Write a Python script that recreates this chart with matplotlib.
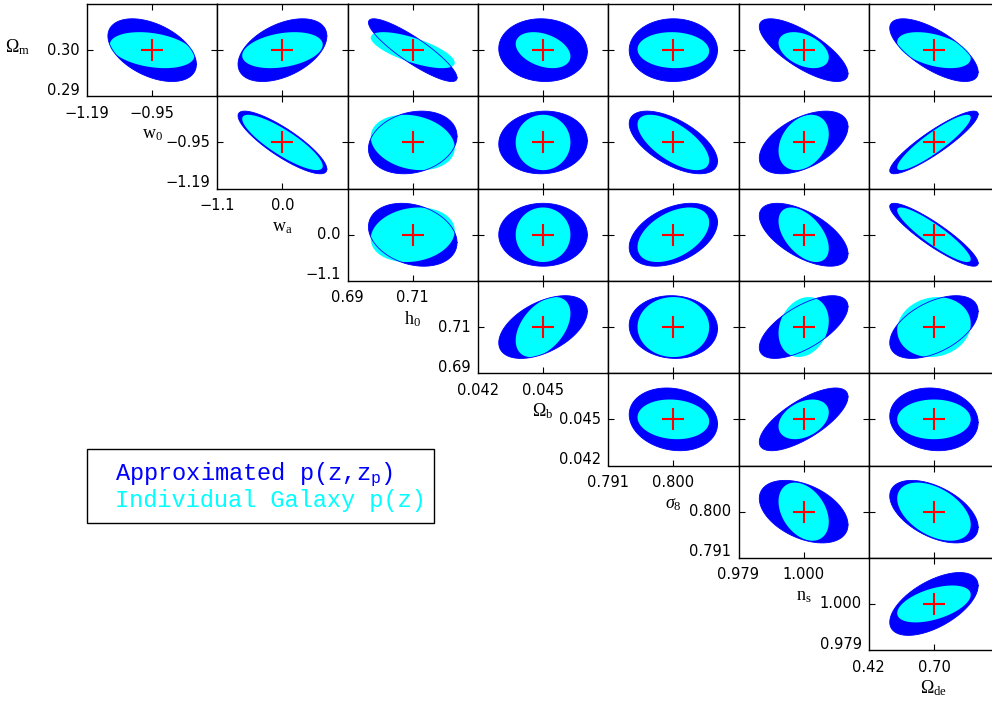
import numpy as np
import matplotlib
matplotlib.use('Agg')
import matplotlib.pyplot as plt
from matplotlib.patches import Rectangle

plt.rcParams['mathtext.fontset'] = 'custom'
plt.rcParams['mathtext.rm'] = 'Liberation Serif'
plt.rcParams['mathtext.it'] = 'Liberation Serif:italic'
plt.rcParams['mathtext.tt'] = 'Liberation Mono'

# parameters: Om, w0, wa, h0, Ob, s8, ns, Ode
names = [r'$\Omega_\mathrm{m}$', r'$\mathrm{w_0}$', r'$\mathrm{w_a}$', r'$\mathrm{h_0}$',
         r'$\Omega_\mathrm{b}$', r'$\sigma_8$', r'$\mathrm{n_s}$', r'$\Omega_\mathrm{de}$']
fid = [0.30, -0.95, 0.0, 0.71, 0.045, 0.800, 1.000, 0.70]
lo = [0.29, -1.19, -1.1, 0.69, 0.042, 0.791, 0.979, 0.42]
fid_lbl = ['0.30', '\u22120.95', '0.0', '0.71', '0.045', '0.800', '1.000', '0.70']
lo_lbl = ['0.29', '\u22121.19', '\u22121.1', '0.69', '0.042', '0.791', '0.979', '0.42']

# 1-sigma-ish sizes of the contours (data units)
sig_blue = [0.0068, 0.163, 0.75, 0.0136, 0.00204, 0.0061, 0.0143, 0.19]
cyan_sx = [None, 0.156, 0.68, 0.0129, 0.00126, 0.00495, 0.0081, 0.158]   # when on x axis
cyan_sy = [0.0039, 0.144, 0.65, 0.013, 0.00129, 0.00567, 0.0084, None]   # when on y axis

# correlations, row i = y param i, entries for x params i+1 .. 7
rho_blue = [
    [-0.45, 0.45, -0.88, -0.05, 0.0, -0.75, -0.7],
    [-0.85, 0.2, 0.05, -0.6, 0.5, 0.9],
    [-0.25, 0.0, 0.4, -0.6, -0.9],
    [0.5, -0.05, 0.65, 0.5],
    [-0.15, 0.72, -0.1],
    [-0.42, -0.5],
    [0.58],
]
rho_cyan = [
    [-0.3, 0.3, -0.7, -0.35, -0.05, -0.4, -0.45],
    [-0.85, -0.2, 0.0, -0.65, 0.3, 0.9],
    [0.15, 0.0, 0.45, -0.5, -0.9],
    [0.45, 0.0, 0.2, 0.1],
    [-0.1, 0.35, 0.0],
    [-0.35, -0.45],
    [0.5],
]

W, H = 992, 702
fig = plt.figure(figsize=(9.92, 7.02), dpi=100)

x0, y0 = 87, 4
pw, ph = 130.3, 92.3


def ftext(x, y, s, **kw):
    fig.text(x / W, 1 - y / H, s, **kw)


def ellipse(cx, cy, sx, sy, r):
    t = np.linspace(0, 2 * np.pi, 300)
    x = cx + sx * np.cos(t)
    y = cy + sy * (r * np.cos(t) + np.sqrt(1 - r * r) * np.sin(t))
    return x, y


for i in range(7):
    for j in range(i, 7):
        px, py = j + 1, i
        left, top = x0 + j * pw, y0 + i * ph
        ax = fig.add_axes([left / W, 1 - (top + ph) / H, pw / W, ph / H])
        cx, cy = fid[px], fid[py]
        ax.set_xlim(lo[px], 2 * cx - lo[px])
        ax.set_ylim(lo[py], 2 * cy - lo[py])
        ax.set_xticks([cx])
        ax.set_yticks([cy])
        ax.tick_params(direction='in', top=True, right=True, length=4, width=0.8,
                       labelbottom=False, labelleft=False)
        for s in ax.spines.values():
            s.set_linewidth(1.0)

        bx, by = ellipse(cx, cy, sig_blue[px], sig_blue[py], rho_blue[i][j - i])
        kx, ky = ellipse(cx, cy, cyan_sx[px], cyan_sy[py], rho_cyan[i][j - i])
        ax.fill(bx, by, color='#0000ff', lw=0)
        ax.fill(kx, ky, color='#00ffff', lw=0)
        ax.plot(bx, by, color='#0000ff', lw=0.6)
        ax.plot(cx, cy, '+', color='red', ms=16, mew=1.5)

        if j == i:
            # y tick labels
            ftext(left - 7, top + ph / 2, fid_lbl[py], ha='right', va='center', fontsize=10.5)
            ftext(left - 7, top + ph - 6, lo_lbl[py], ha='right', va='center', fontsize=10.5)
            # x tick labels
            ftext(left, top + ph + 17, lo_lbl[px], ha='center', va='center', fontsize=10.5)
            ftext(left + pw / 2, top + ph + 17, fid_lbl[px], ha='center', va='center', fontsize=10.5)
            ftext(left + pw / 2, top + ph + 38, names[px], ha='center', va='center', fontsize=13)

ftext(18, 47, names[0], ha='center', va='center', fontsize=13)

# legend box
fig.add_artist(Rectangle((87 / W, 1 - 523 / H), (434 - 87) / W, (523 - 449) / H,
                         transform=fig.transFigure, fill=False, ec='black', lw=1.0))
ftext(115, 480, r'Approximated p(z,z$_\mathtt{p}$)', color='#0000ff',
      family='Liberation Mono', fontsize=17, va='baseline')
ftext(115, 507, 'Individual Galaxy p(z)', color='#00ffff',
      family='Liberation Mono', fontsize=17, va='baseline')

fig.savefig('out.png', dpi=100)
